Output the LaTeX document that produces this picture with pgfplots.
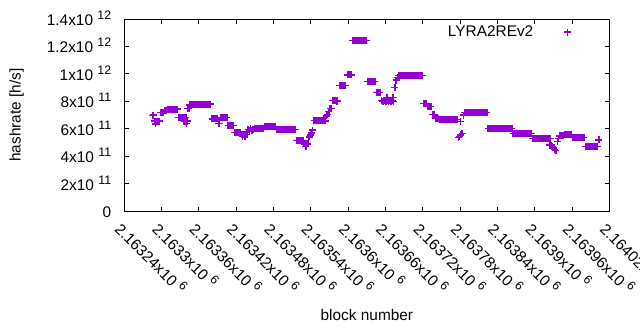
\documentclass[border=0pt]{standalone}
\usepackage{fontspec}
\setmainfont{Liberation Sans}
\usepackage{pgfplots}
\pgfplotsset{compat=1.18}
\definecolor{gpviolet}{RGB}{148,0,211}
\newcommand{\sups}[1]{\hspace{4.3pt}\raisebox{6pt}{\fontsize{12.3pt}{12pt}\selectfont #1}}
% x = block number - 2163000 ; y = hashrate in h/s
\pgfplotstableread[row sep=\\]{
x y\\
286 6.95e11\\ 287 7.00e11\\ 290 6.35e11\\
289 6.55e11\\ 291 6.55e11\\ 293 6.55e11\\ 295 6.55e11\\ 297 6.55e11\\
299 7.17e11\\ 301 7.17e11\\ 303 7.17e11\\ 305 7.36e11\\ 307 7.36e11\\
309 7.43e11\\ 311 7.43e11\\ 313 7.43e11\\ 315 7.43e11\\ 317 7.43e11\\ 319 7.43e11\\ 321 7.43e11\\ 323 7.43e11\\ 325 7.43e11\\
327 6.83e11\\ 329 6.83e11\\ 331 6.83e11\\ 333 6.83e11\\ 335 6.83e11\\ 337 6.83e11\\ 339 6.83e11\\
336 6.55e11\\ 338 6.55e11\\ 341 6.55e11\\ 340 6.40e11\\
342 7.48e11\\ 344 7.48e11\\
345 7.73e11\\ 347 7.73e11\\ 349 7.73e11\\ 351 7.73e11\\ 353 7.73e11\\ 355 7.73e11\\ 357 7.73e11\\ 359 7.73e11\\ 361 7.73e11\\
363 7.80e11\\ 365 7.80e11\\ 367 7.80e11\\ 369 7.80e11\\ 371 7.80e11\\ 373 7.80e11\\ 375 7.80e11\\ 377 7.80e11\\ 379 7.80e11\\
381 6.71e11\\ 383 6.71e11\\ 385 6.71e11\\ 387 6.71e11\\ 389 6.71e11\\
391 6.39e11\\ 393 6.39e11\\
395 6.83e11\\ 397 6.83e11\\ 399 6.83e11\\ 401 6.83e11\\ 403 6.83e11\\ 405 6.83e11\\
407 6.25e11\\ 409 6.25e11\\ 411 6.25e11\\ 413 6.25e11\\ 415 6.25e11\\
417 5.74e11\\ 419 5.74e11\\ 421 5.74e11\\ 423 5.74e11\\ 425 5.74e11\\ 427 5.74e11\\
429 5.59e11\\ 431 5.59e11\\ 433 5.59e11\\ 435 5.59e11\\ 437 5.59e11\\ 430 5.42e11\\ 434 5.42e11\\
439 5.95e11\\ 441 5.90e11\\ 443 5.98e11\\ 445 5.85e11\\ 447 5.95e11\\
449 6.05e11\\ 451 6.05e11\\ 453 6.05e11\\ 455 6.05e11\\ 457 6.05e11\\ 459 6.05e11\\ 461 6.05e11\\ 463 6.05e11\\
465 6.18e11\\ 467 6.18e11\\ 469 6.18e11\\ 471 6.18e11\\ 473 6.18e11\\ 475 6.18e11\\ 477 6.18e11\\ 479 6.18e11\\ 481 6.18e11\\ 483 6.18e11\\
485 5.96e11\\ 487 5.96e11\\ 489 5.96e11\\ 491 5.96e11\\ 493 5.96e11\\ 495 5.96e11\\ 497 5.96e11\\ 499 5.96e11\\
501 5.96e11\\ 503 5.96e11\\ 505 5.96e11\\ 507 5.96e11\\ 509 5.96e11\\ 511 5.96e11\\ 513 5.96e11\\ 515 5.96e11\\
517 5.16e11\\ 519 5.16e11\\ 521 5.16e11\\ 523 5.16e11\\ 525 5.16e11\\ 527 5.16e11\\
529 4.89e11\\ 531 4.89e11\\ 533 4.89e11\\ 535 4.89e11\\ 532 4.70e11\\
537 5.40e11\\ 539 5.55e11\\ 541 5.70e11\\ 543 5.90e11\\
545 6.61e11\\ 547 6.61e11\\ 549 6.61e11\\ 551 6.61e11\\ 553 6.61e11\\ 555 6.61e11\\ 557 6.61e11\\ 559 6.61e11\\
561 6.57e11\\ 563 6.57e11\\
565 6.93e11\\ 567 7.05e11\\ 569 7.24e11\\
571 7.48e11\\ 573 7.48e11\\
575 8.07e11\\ 577 8.07e11\\ 579 8.07e11\\ 581 8.07e11\\ 583 8.07e11\\ 582 7.98e11\\
586 9.16e11\\ 588 9.16e11\\ 590 9.16e11\\ 592 9.16e11\\ 594 9.16e11\\ 596 9.16e11\\
599 9.92e11\\ 601 9.92e11\\ 603 9.92e11\\ 605 9.92e11\\
607 1.245e12\\ 609 1.245e12\\ 611 1.245e12\\ 613 1.245e12\\ 615 1.245e12\\ 617 1.245e12\\
619 1.245e12\\ 621 1.245e12\\ 623 1.245e12\\ 625 1.245e12\\ 627 1.245e12\\ 629 1.245e12\\
631 9.45e11\\ 633 9.45e11\\ 635 9.45e11\\ 637 9.45e11\\ 639 9.45e11\\ 641 9.45e11\\ 643 9.45e11\\
645 8.66e11\\ 647 8.66e11\\ 649 8.66e11\\ 651 8.66e11\\
653 8.07e11\\ 655 8.00e11\\ 657 7.97e11\\ 659 8.03e11\\ 661 8.00e11\\ 662 8.26e11\\ 663 8.05e11\\
665 7.97e11\\ 667 8.03e11\\ 669 8.00e11\\ 671 8.05e11\\ 672 8.26e11\\ 673 8.00e11\\
675 9.02e11\\ 677 9.55e11\\ 679 9.75e11\\
681 9.89e11\\ 683 9.89e11\\ 685 9.89e11\\ 687 9.89e11\\ 689 9.89e11\\ 691 9.89e11\\ 693 9.89e11\\ 695 9.89e11\\ 697 9.89e11\\ 699 9.89e11\\
701 9.89e11\\ 703 9.89e11\\ 705 9.89e11\\ 707 9.89e11\\ 709 9.89e11\\ 711 9.89e11\\ 713 9.89e11\\ 715 9.89e11\\ 717 9.89e11\\ 719 9.89e11\\
721 7.85e11\\ 723 7.85e11\\ 725 7.85e11\\
727 7.60e11\\ 729 7.60e11\\ 731 7.60e11\\ 733 7.60e11\\
735 7.05e11\\ 737 7.05e11\\ 739 7.05e11\\
741 6.76e11\\ 743 6.76e11\\ 745 6.76e11\\
747 6.69e11\\ 749 6.69e11\\ 751 6.69e11\\ 753 6.69e11\\ 755 6.69e11\\ 757 6.69e11\\ 759 6.69e11\\ 761 6.69e11\\
763 6.69e11\\ 765 6.69e11\\ 767 6.69e11\\ 769 6.69e11\\ 771 6.69e11\\ 773 6.69e11\\ 775 6.69e11\\
780 6.51e11\\
777 5.37e11\\ 779 5.45e11\\ 781 5.55e11\\ 783 5.66e11\\
785 7.00e11\\
787 7.20e11\\ 789 7.20e11\\ 791 7.20e11\\ 793 7.20e11\\ 795 7.20e11\\ 797 7.20e11\\ 799 7.20e11\\ 801 7.20e11\\ 803 7.20e11\\ 805 7.20e11\\
807 7.20e11\\ 809 7.20e11\\ 811 7.20e11\\ 813 7.20e11\\ 815 7.20e11\\ 817 7.20e11\\ 819 7.20e11\\ 821 7.20e11\\ 823 7.20e11\\
825 6.03e11\\ 827 6.03e11\\ 829 6.03e11\\ 831 6.03e11\\ 833 6.03e11\\ 835 6.03e11\\ 837 6.03e11\\ 839 6.03e11\\ 841 6.03e11\\ 843 6.03e11\\
845 6.03e11\\ 847 6.03e11\\ 849 6.03e11\\ 851 6.03e11\\ 853 6.03e11\\ 855 6.03e11\\ 857 6.03e11\\ 859 6.03e11\\ 861 6.03e11\\ 863 6.03e11\\
865 5.66e11\\ 867 5.66e11\\ 869 5.66e11\\ 871 5.66e11\\ 873 5.66e11\\ 875 5.66e11\\ 877 5.66e11\\ 879 5.66e11\\
881 5.66e11\\ 883 5.66e11\\ 885 5.66e11\\ 887 5.66e11\\ 889 5.66e11\\ 891 5.66e11\\ 893 5.66e11\\ 895 5.66e11\\
897 5.30e11\\ 899 5.30e11\\ 901 5.30e11\\ 903 5.30e11\\ 905 5.30e11\\ 907 5.30e11\\ 909 5.30e11\\ 911 5.30e11\\
913 5.30e11\\ 915 5.30e11\\ 917 5.30e11\\ 919 5.30e11\\ 921 5.30e11\\ 923 5.30e11\\ 925 5.30e11\\
924 4.81e11\\ 926 4.81e11\\ 928 4.70e11\\ 930 4.64e11\\ 932 4.50e11\\ 934 4.39e11\\
936 5.05e11\\ 938 5.30e11\\
940 5.47e11\\ 942 5.47e11\\ 944 5.47e11\\ 946 5.47e11\\
948 5.57e11\\ 950 5.57e11\\ 952 5.57e11\\ 954 5.57e11\\ 956 5.57e11\\ 958 5.57e11\\
961 5.37e11\\ 963 5.37e11\\ 965 5.37e11\\ 967 5.37e11\\ 969 5.37e11\\ 971 5.37e11\\ 973 5.37e11\\ 975 5.37e11\\ 977 5.37e11\\ 979 5.37e11\\
981 4.72e11\\ 983 4.72e11\\ 985 4.72e11\\ 987 4.72e11\\ 989 4.72e11\\ 991 4.72e11\\ 993 4.72e11\\ 995 4.72e11\\ 997 4.72e11\\ 999 4.72e11\\ 1001 4.72e11\\
1003 5.18e11\\
}\hashdata
\begin{document}
\fontsize{15.4pt}{18pt}\selectfont
\begin{tikzpicture}
\useasboundingbox (-124.3pt,-119pt) rectangle (515.7pt,211pt);
\begin{axis}[
  at={(0pt,0pt)}, anchor=south west,
  scale only axis, width=485.2pt, height=192pt,
  xmin=240, xmax=1020, ymin=0, ymax=1.4e12,
  xtick={240,300,360,420,480,540,600,660,720,780,840,900,960,1020},
  xticklabels={2.16324x10\sups{6},2.1633x10\sups{6},2.16336x10\sups{6},2.16342x10\sups{6},2.16348x10\sups{6},2.16354x10\sups{6},2.1636x10\sups{6},2.16366x10\sups{6},2.16372x10\sups{6},2.16378x10\sups{6},2.16384x10\sups{6},2.1639x10\sups{6},2.16396x10\sups{6},2.16402x10\sups{6}},
  ytick={0,2e11,4e11,6e11,8e11,1e12,1.2e12,1.4e12},
  yticklabels={0,2x10\sups{11},4x10\sups{11},6x10\sups{11},8x10\sups{11},1x10\sups{12},1.2x10\sups{12},1.4x10\sups{12}},
  scaled x ticks=false, scaled y ticks=false,
  tick align=inside,
  major tick length=4.5pt,
  every tick/.style={black, line width=1pt},
  axis line style={black, line width=1pt},
  x tick label style={rotate=-45, anchor=north west, inner sep=0pt},
  xticklabel shift=9pt,
  y tick label style={anchor=base east, inner sep=0pt, yshift=-6.5pt},
  yticklabel shift=13pt,
  xlabel={block number}, ylabel={hashrate [h/s]},
  xlabel style={at={(axis description cs:0.5,-0.5417)}, anchor=center, inner sep=0pt},
  ylabel style={at={(axis description cs:-0.2218,0.5)}, anchor=center, inner sep=0pt},
  legend plot pos=right,
  legend style={draw=none, fill=none, inner sep=0pt, at={(axis description cs:0.9217,0.932)}, anchor=east},
  legend image code/.code={\path[draw=none] (-32pt,0pt) -- (4pt,0pt); \draw[gpviolet, only marks, mark=+, mark size=3.5pt, line width=1.4pt] plot coordinates {(0pt,0pt)};},
]
\addplot[only marks, mark=+, mark size=3.5pt, color=gpviolet, mark options={line width=1.4pt}]
  table[x=x, y=y] {\hashdata};
\addlegendentry{LYRA2REv2}
\end{axis}
\end{tikzpicture}
\end{document}
